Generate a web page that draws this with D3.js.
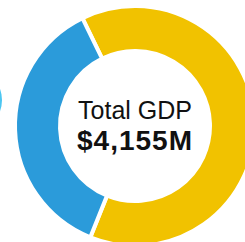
<!DOCTYPE html>
<html><head><meta charset="utf-8">
<script src="https://cdn.jsdelivr.net/npm/d3@7"></script>
<style>html,body{margin:0;padding:0;background:#fff;overflow:hidden}</style>
</head><body>
<svg id="c" width="245" height="242"></svg>
<script>
const categories = ["Segment A", "Segment B"];
const values = [2630, 1525];
const colors = ["#F1C200", "#2B9BDA"];
const titleText = "Total GDP";
const totalText = "$4,155M";

const svg = d3.select("#c");
const cx = 135, cy = 126, rOuter = 120, rInner = 75;

// partial element at far left edge
svg.append("circle").attr("cx", -31).attr("cy", 100).attr("r", 33).attr("fill", "#4CC6F1");

const pie = d3.pie().sort(null).value(d => d)
  .startAngle(-26 * Math.PI / 180).endAngle((360 - 26) * Math.PI / 180);
const arc = d3.arc().innerRadius(rInner).outerRadius(rOuter);

const g = svg.append("g").attr("transform", `translate(${cx},${cy})`);
g.selectAll("path").data(pie(values)).join("path")
  .attr("d", arc)
  .attr("fill", (d, i) => colors[i])
  .attr("stroke", "#fff").attr("stroke-width", 4);

g.append("text").attr("x", 0).attr("y", -7).attr("text-anchor", "middle")
  .attr("font-family", "Liberation Sans, Arial, sans-serif").attr("font-size", 25)
  .attr("fill", "#111").text(titleText);
g.append("text").attr("x", 0).attr("y", 24).attr("text-anchor", "middle")
  .attr("font-family", "Liberation Sans, Arial, sans-serif").attr("font-size", 28)
  .attr("font-weight", "bold").attr("letter-spacing", 1)
  .attr("fill", "#111").text(totalText);
</script>
</body></html>
